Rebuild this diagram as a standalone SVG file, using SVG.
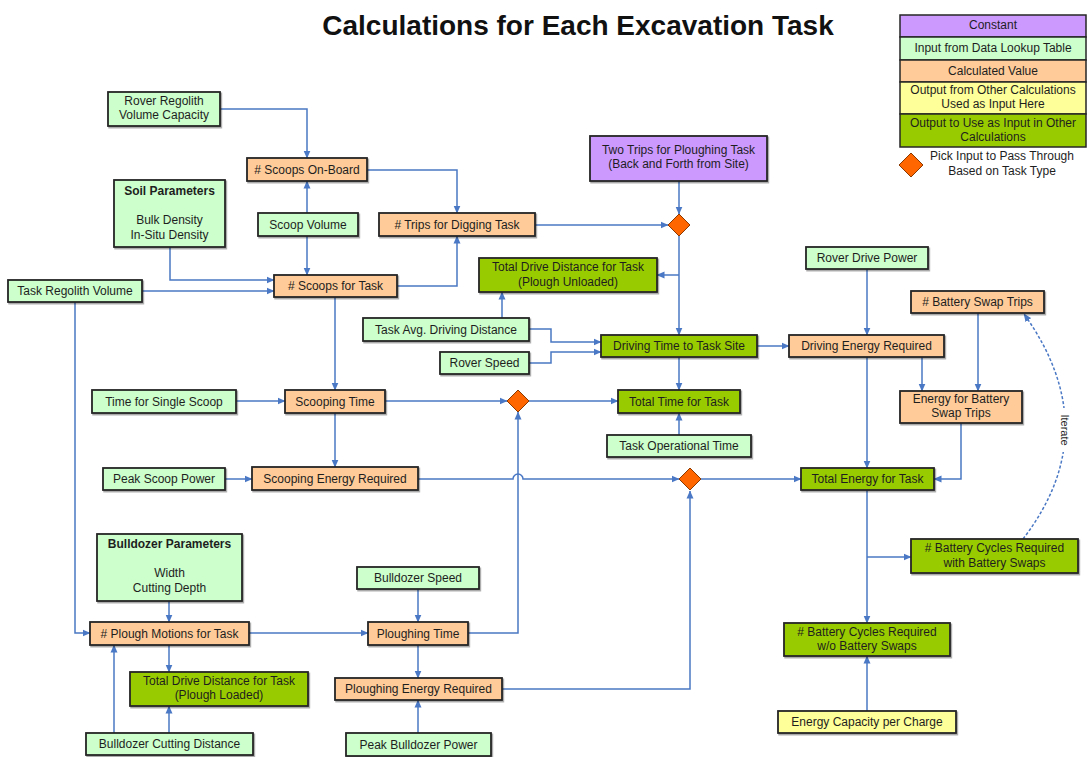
<svg xmlns="http://www.w3.org/2000/svg" width="1089" height="757" viewBox="0 0 1089 757">
<defs>
<marker id="ah" markerUnits="userSpaceOnUse" markerWidth="8" markerHeight="8" refX="7.5" refY="4" orient="auto">
<path d="M0,0.5 L8,4 L0,7.5 z" fill="#4a78c4"/>
</marker>
<filter id="sh" x="-5%" y="-10%" width="115%" height="140%">
<feDropShadow dx="1.2" dy="1.5" stdDeviation="0.7" flood-color="#000" flood-opacity="0.35"/>
</filter>
</defs>
<style>
.n rect{stroke:#262626;stroke-width:1.8;filter:url(#sh)}
.k rect{fill:#CC99FF}
.i rect{fill:#CCFFCC}
.c rect{fill:#FFCC99}
.y rect{fill:#FFFF99}
.o rect{fill:#99CC00}
text{font-family:"Liberation Sans",Arial,sans-serif;font-size:12px;fill:#1e1e1e;text-anchor:middle}
.b{font-weight:bold}
.t{font-size:28px;font-weight:bold;fill:#111}
.e path{fill:none;stroke:#4a78c4;stroke-width:1.5}
.e path.a{marker-end:url(#ah)}
.dm{fill:#FF6600;stroke:#8a3a00;stroke-width:1}
.lg rect{stroke:#262626;stroke-width:1.5}
</style>
<rect width="1089" height="757" fill="#fff"/>
<text class="t" x="578" y="35">Calculations for Each Excavation Task</text>

<g id="legend" class="lg">
<rect x="900" y="15" width="186" height="22" fill="#CC99FF"/>
<rect x="900" y="37" width="186" height="23" fill="#CCFFCC"/>
<rect x="900" y="60" width="186" height="22" fill="#FFCC99"/>
<rect x="900" y="82" width="186" height="32" fill="#FFFF99"/>
<rect x="900" y="114" width="186" height="33" fill="#99CC00"/>
<text x="993" y="29">Constant</text>
<text x="993" y="52">Input from Data Lookup Table</text>
<text x="993" y="75">Calculated Value</text>
<text x="993" y="94">Output from Other Calculations</text>
<text x="993" y="108">Used as Input Here</text>
<text x="993" y="127">Output to Use as Input in Other</text>
<text x="993" y="141">Calculations</text>
<path class="dm" d="M911,153 L923,165 L911,177 L899,165 z"/>
<text x="1002" y="160">Pick Input to Pass Through</text>
<text x="1002" y="175">Based on Task Type</text>
</g>

<g id="connectors" class="e">
<path class="a" d="M220,109 H307 V158"/>
<path class="a" d="M307,213 V181"/>
<path class="a" d="M307,236 V275"/>
<path class="a" d="M170,247 V280 H274"/>
<path class="a" d="M142,291 H274"/>
<path class="a" d="M75,302 V633 H90"/>
<path class="a" d="M367,170 H457 V213"/>
<path class="a" d="M397,286 H457 V236"/>
<path class="a" d="M535,225 H668"/>
<path class="a" d="M679,181 V214"/>
<path class="a" d="M679,236 V335"/>
<path class="a" d="M679,275 H657"/>
<path class="a" d="M502,318 V292"/>
<path class="a" d="M529,329 H551 V342 H601"/>
<path class="a" d="M529,363 H551 V352 H601"/>
<path class="a" d="M757,346 H789"/>
<path class="a" d="M679,357 V390"/>
<path class="a" d="M679,435 V413"/>
<path class="a" d="M867,269 V335"/>
<path class="a" d="M922,357 V391"/>
<path class="a" d="M978,313 V391"/>
<path class="a" d="M961,423 V479 H934"/>
<path class="a" d="M867,357 V468"/>
<path class="a" d="M867,490 V623"/>
<path class="a" d="M867,557 H911"/>
<path class="a" d="M867,711 V656"/>
<path class="a" d="M1023,539 Q1107,430 1024,314" style="stroke-dasharray:3,2"/>
<path class="a" d="M236,401 H285"/>
<path class="a" d="M335,297 V390"/>
<path class="a" d="M385,401 H507"/>
<path class="a" d="M529,401 H618"/>
<path class="a" d="M335,413 V467"/>
<path class="a" d="M225,479 H252"/>
<path class="a" d="M418,479 H513 A5,5 0 0 1 523,479 H679"/>
<path class="a" d="M701,479 H801"/>
<path class="a" d="M169,601 V622"/>
<path class="a" d="M169,645 V672"/>
<path class="a" d="M114,733 V645"/>
<path class="a" d="M169,733 V706"/>
<path class="a" d="M249,633 H368"/>
<path class="a" d="M418,589 V622"/>
<path class="a" d="M468,633 H518 V412"/>
<path class="a" d="M418,645 V678"/>
<path class="a" d="M502,689 H690 V491"/>
<path class="a" d="M418,733 V700"/>
<rect x="1059" y="408" width="13" height="44" fill="#fff"/>
<text x="1065" y="430" transform="rotate(90 1065 430)" dy="4" style="font-size:11px">Iterate</text>
</g>

<g id="pick1"><path class="dm" d="M679,214 L690,225 L679,236 L668,225 z"/></g>
<g id="pick2"><path class="dm" d="M518,390 L529,401 L518,412 L507,401 z"/></g>
<g id="pick3"><path class="dm" d="M690,468 L701,479 L690,490 L679,479 z"/></g>

<g id="rover-regolith" class="n i"><rect x="108" y="92" width="112" height="34"/><text x="164" y="105">Rover Regolith</text><text x="164" y="119">Volume Capacity</text></g>
<g id="scoops-onboard" class="n c"><rect x="247" y="158" width="120" height="23"/><text x="307" y="174">&#35; Scoops On-Board</text></g>
<g id="soil-params" class="n i"><rect x="114" y="180" width="111" height="67"/><text class="b" x="169.5" y="195">Soil Parameters</text><text x="169.5" y="224">Bulk Density</text><text x="169.5" y="239">In-Situ Density</text></g>
<g id="scoop-volume" class="n i"><rect x="258" y="213" width="100" height="23"/><text x="308" y="229">Scoop Volume</text></g>
<g id="task-regolith" class="n i"><rect x="8" y="280" width="134" height="22"/><text x="75" y="295">Task Regolith Volume</text></g>
<g id="scoops-task" class="n c"><rect x="274" y="275" width="123" height="22"/><text x="335.5" y="290">&#35; Scoops for Task</text></g>
<g id="trips-digging" class="n c"><rect x="379" y="213" width="156" height="23"/><text x="457" y="229">&#35; Trips for Digging Task</text></g>
<g id="two-trips" class="n k"><rect x="590" y="136" width="177" height="45"/><text x="678.5" y="154">Two Trips for Ploughing Task</text><text x="678.5" y="168">(Back and Forth from Site)</text></g>
<g id="drive-unloaded" class="n o"><rect x="479" y="258" width="178" height="34"/><text x="568" y="271">Total Drive Distance for Task</text><text x="568" y="286">(Plough Unloaded)</text></g>
<g id="task-avg-dist" class="n i"><rect x="363" y="318" width="166" height="23"/><text x="446" y="334">Task Avg. Driving Distance</text></g>
<g id="rover-speed" class="n i"><rect x="440" y="352" width="89" height="22"/><text x="484.5" y="367">Rover Speed</text></g>
<g id="driving-time" class="n o"><rect x="601" y="335" width="156" height="22"/><text x="679" y="350">Driving Time to Task Site</text></g>
<g id="total-time" class="n o"><rect x="618" y="390" width="122" height="23"/><text x="679" y="406">Total Time for Task</text></g>
<g id="task-op-time" class="n i"><rect x="607" y="435" width="144" height="22"/><text x="679" y="450">Task Operational Time</text></g>
<g id="rover-drive-power" class="n i"><rect x="806" y="247" width="122" height="22"/><text x="867" y="262">Rover Drive Power</text></g>
<g id="driving-energy" class="n c"><rect x="789" y="335" width="155" height="22"/><text x="866.5" y="350">Driving Energy Required</text></g>
<g id="swap-trips" class="n c"><rect x="911" y="291" width="133" height="22"/><text x="977.5" y="306">&#35; Battery Swap Trips</text></g>
<g id="energy-swap" class="n c"><rect x="900" y="391" width="122" height="32"/><text x="961" y="403">Energy for Battery</text><text x="961" y="417">Swap Trips</text></g>
<g id="total-energy" class="n o"><rect x="801" y="468" width="133" height="22"/><text x="867.5" y="483">Total Energy for Task</text></g>
<g id="cycles-with" class="n o"><rect x="911" y="539" width="167" height="34"/><text x="994.5" y="552">&#35; Battery Cycles Required</text><text x="994.5" y="567">with Battery Swaps</text></g>
<g id="cycles-without" class="n o"><rect x="784" y="623" width="166" height="33"/><text x="867" y="636">&#35; Battery Cycles Required</text><text x="867" y="650">w/o Battery Swaps</text></g>
<g id="energy-capacity" class="n y"><rect x="778" y="711" width="178" height="22"/><text x="867" y="726">Energy Capacity per Charge</text></g>
<g id="time-single-scoop" class="n i"><rect x="92" y="390" width="144" height="23"/><text x="164" y="406">Time for Single Scoop</text></g>
<g id="scooping-time" class="n c"><rect x="285" y="390" width="100" height="23"/><text x="335" y="406">Scooping Time</text></g>
<g id="peak-scoop" class="n i"><rect x="103" y="468" width="122" height="22"/><text x="164" y="483">Peak Scoop Power</text></g>
<g id="scooping-energy" class="n c"><rect x="252" y="467" width="166" height="23"/><text x="335" y="483">Scooping Energy Required</text></g>
<g id="bulldozer-params" class="n i"><rect x="97" y="534" width="145" height="67"/><text class="b" x="169.5" y="548">Bulldozer Parameters</text><text x="169.5" y="577">Width</text><text x="169.5" y="592">Cutting Depth</text></g>
<g id="plough-motions" class="n c"><rect x="90" y="622" width="159" height="23"/><text x="169.5" y="638">&#35; Plough Motions for Task</text></g>
<g id="drive-loaded" class="n o"><rect x="130" y="672" width="178" height="34"/><text x="219" y="685">Total Drive Distance for Task</text><text x="219" y="699">(Plough Loaded)</text></g>
<g id="cutting-distance" class="n i"><rect x="86" y="733" width="167" height="22"/><text x="169.5" y="748">Bulldozer Cutting Distance</text></g>
<g id="bulldozer-speed" class="n i"><rect x="357" y="567" width="122" height="22"/><text x="418" y="582">Bulldozer Speed</text></g>
<g id="ploughing-time" class="n c"><rect x="368" y="622" width="100" height="23"/><text x="418" y="638">Ploughing Time</text></g>
<g id="ploughing-energy" class="n c"><rect x="335" y="678" width="167" height="22"/><text x="418.5" y="693">Ploughing Energy Required</text></g>
<g id="peak-bulldozer" class="n i"><rect x="346" y="733" width="145" height="23"/><text x="418.5" y="749">Peak Bulldozer Power</text></g>
</svg>
